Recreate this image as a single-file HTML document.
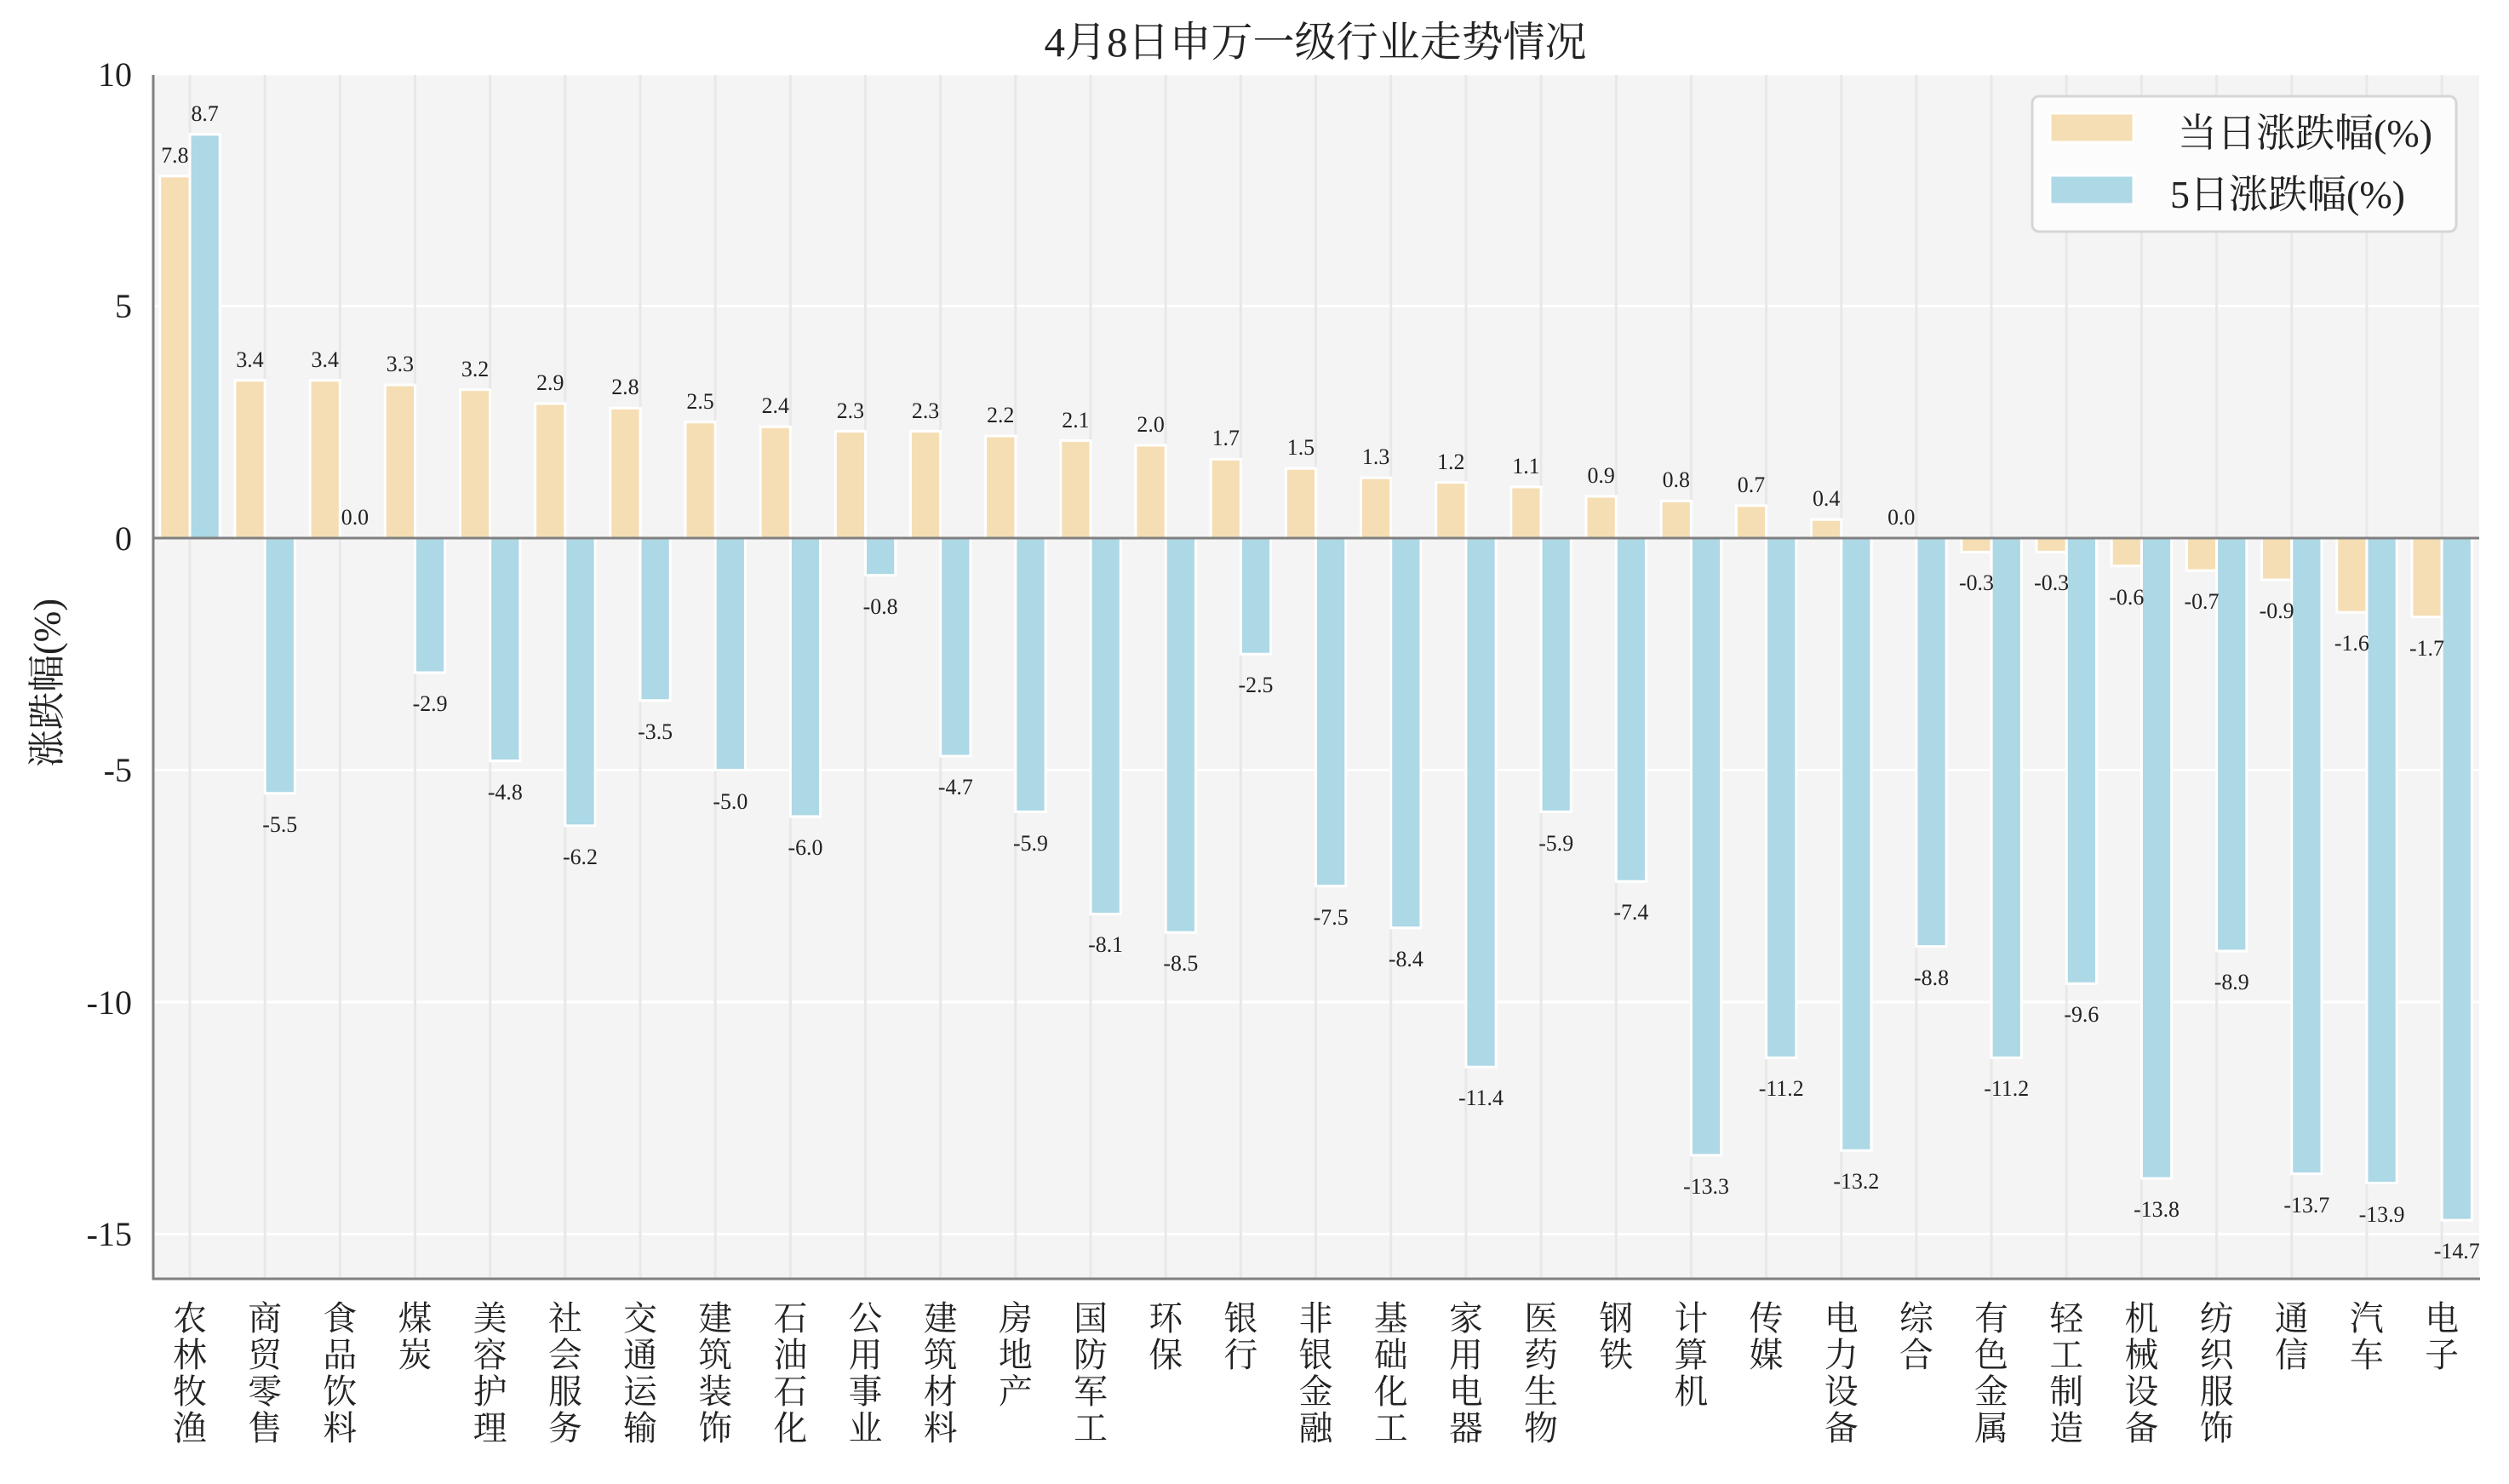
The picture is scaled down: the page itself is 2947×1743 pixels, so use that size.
<!DOCTYPE html>
<html><head><meta charset="utf-8"><style>
html,body{margin:0;padding:0;background:#fff}
svg{display:block}
text{font-family:"Liberation Serif","Noto Serif CJK SC",serif;fill:#222}
.v{font-size:26px;text-anchor:middle}
.t{font-size:40px;text-anchor:end}
.x{font-size:40px;text-anchor:middle}
</style></head><body>
<svg width="2947" height="1743" viewBox="0 0 2947 1743" xmlns="http://www.w3.org/2000/svg">
<rect x="0" y="0" width="2947" height="1743" fill="#fff"/>
<text x="1545" y="66" style="font-size:49px;text-anchor:middle">4月8日申万一级行业走势情况</text>
<rect x="180" y="88" width="2732" height="1414" fill="#f4f4f4"/>
<g stroke="#fff" stroke-width="3">
<line x1="180" x2="2912" y1="87" y2="87"/><line x1="180" x2="2912" y1="359.5" y2="359.5"/>
<line x1="180" x2="2912" y1="904.5" y2="904.5"/><line x1="180" x2="2912" y1="1177" y2="1177"/>
<line x1="180" x2="2912" y1="1449.5" y2="1449.5"/>
</g>
<g transform="translate(223,-4) scale(0.99515,1) translate(-225,0)">
<g stroke="#e8e8e8" stroke-width="3">
<line x1="225" x2="225" y1="92" y2="1506"/><line x1="313.6" x2="313.6" y1="92" y2="1506"/><line x1="402.2" x2="402.2" y1="92" y2="1506"/><line x1="490.8" x2="490.8" y1="92" y2="1506"/><line x1="579.4" x2="579.4" y1="92" y2="1506"/><line x1="668" x2="668" y1="92" y2="1506"/><line x1="756.6" x2="756.6" y1="92" y2="1506"/><line x1="845.2" x2="845.2" y1="92" y2="1506"/><line x1="933.8" x2="933.8" y1="92" y2="1506"/><line x1="1022.4" x2="1022.4" y1="92" y2="1506"/><line x1="1111" x2="1111" y1="92" y2="1506"/><line x1="1199.6" x2="1199.6" y1="92" y2="1506"/><line x1="1288.2" x2="1288.2" y1="92" y2="1506"/><line x1="1376.8" x2="1376.8" y1="92" y2="1506"/><line x1="1465.4" x2="1465.4" y1="92" y2="1506"/><line x1="1554" x2="1554" y1="92" y2="1506"/><line x1="1642.6" x2="1642.6" y1="92" y2="1506"/><line x1="1731.2" x2="1731.2" y1="92" y2="1506"/><line x1="1819.8" x2="1819.8" y1="92" y2="1506"/><line x1="1908.4" x2="1908.4" y1="92" y2="1506"/><line x1="1997" x2="1997" y1="92" y2="1506"/><line x1="2085.6" x2="2085.6" y1="92" y2="1506"/><line x1="2174.2" x2="2174.2" y1="92" y2="1506"/><line x1="2262.8" x2="2262.8" y1="92" y2="1506"/><line x1="2351.4" x2="2351.4" y1="92" y2="1506"/><line x1="2440" x2="2440" y1="92" y2="1506"/><line x1="2528.6" x2="2528.6" y1="92" y2="1506"/><line x1="2617.2" x2="2617.2" y1="92" y2="1506"/><line x1="2705.8" x2="2705.8" y1="92" y2="1506"/><line x1="2794.4" x2="2794.4" y1="92" y2="1506"/><line x1="2883" x2="2883" y1="92" y2="1506"/>
</g>
<g transform="translate(0,636) scale(1,-54.5)" stroke="#fff" stroke-width="3">
<g fill="#f5deb3">
<rect vector-effect="non-scaling-stroke" x="189.6" y="0" width="35.4" height="7.8"/>
<rect vector-effect="non-scaling-stroke" x="278.2" y="0" width="35.4" height="3.4"/>
<rect vector-effect="non-scaling-stroke" x="366.8" y="0" width="35.4" height="3.4"/>
<rect vector-effect="non-scaling-stroke" x="455.4" y="0" width="35.4" height="3.3"/>
<rect vector-effect="non-scaling-stroke" x="544" y="0" width="35.4" height="3.2"/>
<rect vector-effect="non-scaling-stroke" x="632.6" y="0" width="35.4" height="2.9"/>
<rect vector-effect="non-scaling-stroke" x="721.2" y="0" width="35.4" height="2.8"/>
<rect vector-effect="non-scaling-stroke" x="809.8" y="0" width="35.4" height="2.5"/>
<rect vector-effect="non-scaling-stroke" x="898.4" y="0" width="35.4" height="2.4"/>
<rect vector-effect="non-scaling-stroke" x="987" y="0" width="35.4" height="2.3"/>
<rect vector-effect="non-scaling-stroke" x="1075.6" y="0" width="35.4" height="2.3"/>
<rect vector-effect="non-scaling-stroke" x="1164.2" y="0" width="35.4" height="2.2"/>
<rect vector-effect="non-scaling-stroke" x="1252.8" y="0" width="35.4" height="2.1"/>
<rect vector-effect="non-scaling-stroke" x="1341.4" y="0" width="35.4" height="2.0"/>
<rect vector-effect="non-scaling-stroke" x="1430" y="0" width="35.4" height="1.7"/>
<rect vector-effect="non-scaling-stroke" x="1518.6" y="0" width="35.4" height="1.5"/>
<rect vector-effect="non-scaling-stroke" x="1607.2" y="0" width="35.4" height="1.3"/>
<rect vector-effect="non-scaling-stroke" x="1695.8" y="0" width="35.4" height="1.2"/>
<rect vector-effect="non-scaling-stroke" x="1784.4" y="0" width="35.4" height="1.1"/>
<rect vector-effect="non-scaling-stroke" x="1873" y="0" width="35.4" height="0.9"/>
<rect vector-effect="non-scaling-stroke" x="1961.6" y="0" width="35.4" height="0.8"/>
<rect vector-effect="non-scaling-stroke" x="2050.2" y="0" width="35.4" height="0.7"/>
<rect vector-effect="non-scaling-stroke" x="2138.8" y="0" width="35.4" height="0.4"/>
<rect vector-effect="non-scaling-stroke" x="2316" y="-0.3" width="35.4" height="0.3"/>
<rect vector-effect="non-scaling-stroke" x="2404.6" y="-0.3" width="35.4" height="0.3"/>
<rect vector-effect="non-scaling-stroke" x="2493.2" y="-0.6" width="35.4" height="0.6"/>
<rect vector-effect="non-scaling-stroke" x="2581.8" y="-0.7" width="35.4" height="0.7"/>
<rect vector-effect="non-scaling-stroke" x="2670.4" y="-0.9" width="35.4" height="0.9"/>
<rect vector-effect="non-scaling-stroke" x="2759" y="-1.6" width="35.4" height="1.6"/>
<rect vector-effect="non-scaling-stroke" x="2847.6" y="-1.7" width="35.4" height="1.7"/>
</g>
<g fill="#add8e6">
<rect vector-effect="non-scaling-stroke" x="225" y="0" width="35.4" height="8.7"/>
<rect vector-effect="non-scaling-stroke" x="313.6" y="-5.5" width="35.4" height="5.5"/>
<rect vector-effect="non-scaling-stroke" x="490.8" y="-2.9" width="35.4" height="2.9"/>
<rect vector-effect="non-scaling-stroke" x="579.4" y="-4.8" width="35.4" height="4.8"/>
<rect vector-effect="non-scaling-stroke" x="668" y="-6.2" width="35.4" height="6.2"/>
<rect vector-effect="non-scaling-stroke" x="756.6" y="-3.5" width="35.4" height="3.5"/>
<rect vector-effect="non-scaling-stroke" x="845.2" y="-5.0" width="35.4" height="5.0"/>
<rect vector-effect="non-scaling-stroke" x="933.8" y="-6.0" width="35.4" height="6.0"/>
<rect vector-effect="non-scaling-stroke" x="1022.4" y="-0.8" width="35.4" height="0.8"/>
<rect vector-effect="non-scaling-stroke" x="1111" y="-4.7" width="35.4" height="4.7"/>
<rect vector-effect="non-scaling-stroke" x="1199.6" y="-5.9" width="35.4" height="5.9"/>
<rect vector-effect="non-scaling-stroke" x="1288.2" y="-8.1" width="35.4" height="8.1"/>
<rect vector-effect="non-scaling-stroke" x="1376.8" y="-8.5" width="35.4" height="8.5"/>
<rect vector-effect="non-scaling-stroke" x="1465.4" y="-2.5" width="35.4" height="2.5"/>
<rect vector-effect="non-scaling-stroke" x="1554" y="-7.5" width="35.4" height="7.5"/>
<rect vector-effect="non-scaling-stroke" x="1642.6" y="-8.4" width="35.4" height="8.4"/>
<rect vector-effect="non-scaling-stroke" x="1731.2" y="-11.4" width="35.4" height="11.4"/>
<rect vector-effect="non-scaling-stroke" x="1819.8" y="-5.9" width="35.4" height="5.9"/>
<rect vector-effect="non-scaling-stroke" x="1908.4" y="-7.4" width="35.4" height="7.4"/>
<rect vector-effect="non-scaling-stroke" x="1997" y="-13.3" width="35.4" height="13.3"/>
<rect vector-effect="non-scaling-stroke" x="2085.6" y="-11.2" width="35.4" height="11.2"/>
<rect vector-effect="non-scaling-stroke" x="2174.2" y="-13.2" width="35.4" height="13.2"/>
<rect vector-effect="non-scaling-stroke" x="2262.8" y="-8.8" width="35.4" height="8.8"/>
<rect vector-effect="non-scaling-stroke" x="2351.4" y="-11.2" width="35.4" height="11.2"/>
<rect vector-effect="non-scaling-stroke" x="2440" y="-9.6" width="35.4" height="9.6"/>
<rect vector-effect="non-scaling-stroke" x="2528.6" y="-13.8" width="35.4" height="13.8"/>
<rect vector-effect="non-scaling-stroke" x="2617.2" y="-8.9" width="35.4" height="8.9"/>
<rect vector-effect="non-scaling-stroke" x="2705.8" y="-13.7" width="35.4" height="13.7"/>
<rect vector-effect="non-scaling-stroke" x="2794.4" y="-13.9" width="35.4" height="13.9"/>
<rect vector-effect="non-scaling-stroke" x="2883" y="-14.7" width="35.4" height="14.7"/>
</g>
</g>
<g class="v">
<text x="207.3" y="195" class="v">7.8</text><text x="242.7" y="146" class="v">8.7</text>
<text x="295.9" y="435" class="v">3.4</text><text x="331.3" y="981" class="v">-5.5</text>
<text x="384.5" y="435" class="v">3.4</text><text x="419.9" y="620" class="v">0.0</text>
<text x="473.1" y="440" class="v">3.3</text><text x="508.5" y="839" class="v">-2.9</text>
<text x="561.7" y="446" class="v">3.2</text><text x="597.1" y="943" class="v">-4.8</text>
<text x="650.3" y="462" class="v">2.9</text><text x="685.7" y="1019" class="v">-6.2</text>
<text x="738.9" y="467" class="v">2.8</text><text x="774.3" y="872" class="v">-3.5</text>
<text x="827.5" y="484" class="v">2.5</text><text x="862.9" y="954" class="v">-5.0</text>
<text x="916.1" y="489" class="v">2.4</text><text x="951.5" y="1008" class="v">-6.0</text>
<text x="1004.7" y="495" class="v">2.3</text><text x="1040.1" y="725" class="v">-0.8</text>
<text x="1093.3" y="495" class="v">2.3</text><text x="1128.7" y="937" class="v">-4.7</text>
<text x="1181.9" y="500" class="v">2.2</text><text x="1217.3" y="1003" class="v">-5.9</text>
<text x="1270.5" y="506" class="v">2.1</text><text x="1305.9" y="1122" class="v">-8.1</text>
<text x="1359.1" y="511" class="v">2.0</text><text x="1394.5" y="1144" class="v">-8.5</text>
<text x="1447.7" y="527" class="v">1.7</text><text x="1483.1" y="817" class="v">-2.5</text>
<text x="1536.3" y="538" class="v">1.5</text><text x="1571.7" y="1090" class="v">-7.5</text>
<text x="1624.9" y="549" class="v">1.3</text><text x="1660.3" y="1139" class="v">-8.4</text>
<text x="1713.5" y="555" class="v">1.2</text><text x="1748.9" y="1302" class="v">-11.4</text>
<text x="1802.1" y="560" class="v">1.1</text><text x="1837.5" y="1003" class="v">-5.9</text>
<text x="1890.7" y="571" class="v">0.9</text><text x="1926.1" y="1084" class="v">-7.4</text>
<text x="1979.3" y="576" class="v">0.8</text><text x="2014.7" y="1406" class="v">-13.3</text>
<text x="2067.9" y="582" class="v">0.7</text><text x="2103.3" y="1291" class="v">-11.2</text>
<text x="2156.5" y="598" class="v">0.4</text><text x="2191.9" y="1400" class="v">-13.2</text>
<text x="2245.1" y="620" class="v">0.0</text><text x="2280.5" y="1161" class="v">-8.8</text>
<text x="2333.7" y="697" class="v">-0.3</text><text x="2369.1" y="1291" class="v">-11.2</text>
<text x="2422.3" y="697" class="v">-0.3</text><text x="2457.7" y="1204" class="v">-9.6</text>
<text x="2510.9" y="714" class="v">-0.6</text><text x="2546.3" y="1433" class="v">-13.8</text>
<text x="2599.5" y="719" class="v">-0.7</text><text x="2634.9" y="1166" class="v">-8.9</text>
<text x="2688.1" y="730" class="v">-0.9</text><text x="2723.5" y="1428" class="v">-13.7</text>
<text x="2776.7" y="768" class="v">-1.6</text><text x="2812.1" y="1439" class="v">-13.9</text>
<text x="2865.3" y="774" class="v">-1.7</text><text x="2900.7" y="1482" class="v">-14.7</text>
</g>
<g class="x">
<text class="x" x="225" y="1566"><tspan x="225">农</tspan><tspan x="225" dy="43">林</tspan><tspan x="225" dy="43">牧</tspan><tspan x="225" dy="43">渔</tspan></text>
<text class="x" x="313.6" y="1566"><tspan x="313.6">商</tspan><tspan x="313.6" dy="43">贸</tspan><tspan x="313.6" dy="43">零</tspan><tspan x="313.6" dy="43">售</tspan></text>
<text class="x" x="402.2" y="1566"><tspan x="402.2">食</tspan><tspan x="402.2" dy="43">品</tspan><tspan x="402.2" dy="43">饮</tspan><tspan x="402.2" dy="43">料</tspan></text>
<text class="x" x="490.8" y="1566"><tspan x="490.8">煤</tspan><tspan x="490.8" dy="43">炭</tspan></text>
<text class="x" x="579.4" y="1566"><tspan x="579.4">美</tspan><tspan x="579.4" dy="43">容</tspan><tspan x="579.4" dy="43">护</tspan><tspan x="579.4" dy="43">理</tspan></text>
<text class="x" x="668" y="1566"><tspan x="668">社</tspan><tspan x="668" dy="43">会</tspan><tspan x="668" dy="43">服</tspan><tspan x="668" dy="43">务</tspan></text>
<text class="x" x="756.6" y="1566"><tspan x="756.6">交</tspan><tspan x="756.6" dy="43">通</tspan><tspan x="756.6" dy="43">运</tspan><tspan x="756.6" dy="43">输</tspan></text>
<text class="x" x="845.2" y="1566"><tspan x="845.2">建</tspan><tspan x="845.2" dy="43">筑</tspan><tspan x="845.2" dy="43">装</tspan><tspan x="845.2" dy="43">饰</tspan></text>
<text class="x" x="933.8" y="1566"><tspan x="933.8">石</tspan><tspan x="933.8" dy="43">油</tspan><tspan x="933.8" dy="43">石</tspan><tspan x="933.8" dy="43">化</tspan></text>
<text class="x" x="1022.4" y="1566"><tspan x="1022.4">公</tspan><tspan x="1022.4" dy="43">用</tspan><tspan x="1022.4" dy="43">事</tspan><tspan x="1022.4" dy="43">业</tspan></text>
<text class="x" x="1111" y="1566"><tspan x="1111">建</tspan><tspan x="1111" dy="43">筑</tspan><tspan x="1111" dy="43">材</tspan><tspan x="1111" dy="43">料</tspan></text>
<text class="x" x="1199.6" y="1566"><tspan x="1199.6">房</tspan><tspan x="1199.6" dy="43">地</tspan><tspan x="1199.6" dy="43">产</tspan></text>
<text class="x" x="1288.2" y="1566"><tspan x="1288.2">国</tspan><tspan x="1288.2" dy="43">防</tspan><tspan x="1288.2" dy="43">军</tspan><tspan x="1288.2" dy="43">工</tspan></text>
<text class="x" x="1376.8" y="1566"><tspan x="1376.8">环</tspan><tspan x="1376.8" dy="43">保</tspan></text>
<text class="x" x="1465.4" y="1566"><tspan x="1465.4">银</tspan><tspan x="1465.4" dy="43">行</tspan></text>
<text class="x" x="1554" y="1566"><tspan x="1554">非</tspan><tspan x="1554" dy="43">银</tspan><tspan x="1554" dy="43">金</tspan><tspan x="1554" dy="43">融</tspan></text>
<text class="x" x="1642.6" y="1566"><tspan x="1642.6">基</tspan><tspan x="1642.6" dy="43">础</tspan><tspan x="1642.6" dy="43">化</tspan><tspan x="1642.6" dy="43">工</tspan></text>
<text class="x" x="1731.2" y="1566"><tspan x="1731.2">家</tspan><tspan x="1731.2" dy="43">用</tspan><tspan x="1731.2" dy="43">电</tspan><tspan x="1731.2" dy="43">器</tspan></text>
<text class="x" x="1819.8" y="1566"><tspan x="1819.8">医</tspan><tspan x="1819.8" dy="43">药</tspan><tspan x="1819.8" dy="43">生</tspan><tspan x="1819.8" dy="43">物</tspan></text>
<text class="x" x="1908.4" y="1566"><tspan x="1908.4">钢</tspan><tspan x="1908.4" dy="43">铁</tspan></text>
<text class="x" x="1997" y="1566"><tspan x="1997">计</tspan><tspan x="1997" dy="43">算</tspan><tspan x="1997" dy="43">机</tspan></text>
<text class="x" x="2085.6" y="1566"><tspan x="2085.6">传</tspan><tspan x="2085.6" dy="43">媒</tspan></text>
<text class="x" x="2174.2" y="1566"><tspan x="2174.2">电</tspan><tspan x="2174.2" dy="43">力</tspan><tspan x="2174.2" dy="43">设</tspan><tspan x="2174.2" dy="43">备</tspan></text>
<text class="x" x="2262.8" y="1566"><tspan x="2262.8">综</tspan><tspan x="2262.8" dy="43">合</tspan></text>
<text class="x" x="2351.4" y="1566"><tspan x="2351.4">有</tspan><tspan x="2351.4" dy="43">色</tspan><tspan x="2351.4" dy="43">金</tspan><tspan x="2351.4" dy="43">属</tspan></text>
<text class="x" x="2440" y="1566"><tspan x="2440">轻</tspan><tspan x="2440" dy="43">工</tspan><tspan x="2440" dy="43">制</tspan><tspan x="2440" dy="43">造</tspan></text>
<text class="x" x="2528.6" y="1566"><tspan x="2528.6">机</tspan><tspan x="2528.6" dy="43">械</tspan><tspan x="2528.6" dy="43">设</tspan><tspan x="2528.6" dy="43">备</tspan></text>
<text class="x" x="2617.2" y="1566"><tspan x="2617.2">纺</tspan><tspan x="2617.2" dy="43">织</tspan><tspan x="2617.2" dy="43">服</tspan><tspan x="2617.2" dy="43">饰</tspan></text>
<text class="x" x="2705.8" y="1566"><tspan x="2705.8">通</tspan><tspan x="2705.8" dy="43">信</tspan></text>
<text class="x" x="2794.4" y="1566"><tspan x="2794.4">汽</tspan><tspan x="2794.4" dy="43">车</tspan></text>
<text class="x" x="2883" y="1566"><tspan x="2883">电</tspan><tspan x="2883" dy="43">子</tspan></text>
</g>
</g>
<line x1="180" x2="2912" y1="632" y2="632" stroke="#808080" stroke-width="3"/>
<line x1="180" x2="180" y1="88" y2="1503" stroke="#808080" stroke-width="3"/>
<line x1="179" x2="2913" y1="1502" y2="1502" stroke="#808080" stroke-width="3"/>
<text class="t" x="155" y="101">10</text>
<text class="t" x="155" y="373">5</text>
<text class="t" x="155" y="646">0</text>
<text class="t" x="155" y="918">-5</text>
<text class="t" x="155" y="1191">-10</text>
<text class="t" x="155" y="1463">-15</text>
<text transform="translate(70,802) rotate(-90)" style="font-size:44px;text-anchor:middle">涨跌幅(%)</text>
<rect x="2387" y="113" width="498" height="159" rx="8" fill="#fcfcfc" stroke="#d6d6d6" stroke-width="3"/>
<rect x="2408" y="133" width="98" height="34" fill="#f5deb3" stroke="#fff" stroke-width="3"/>
<rect x="2408" y="206" width="98" height="34" fill="#add8e6" stroke="#fff" stroke-width="3"/>
<text x="2558" y="172" style="font-size:46px">当日涨跌幅(%)</text>
<text x="2549" y="244" style="font-size:46px">5日涨跌幅(%)</text>
</svg>
</body></html>
